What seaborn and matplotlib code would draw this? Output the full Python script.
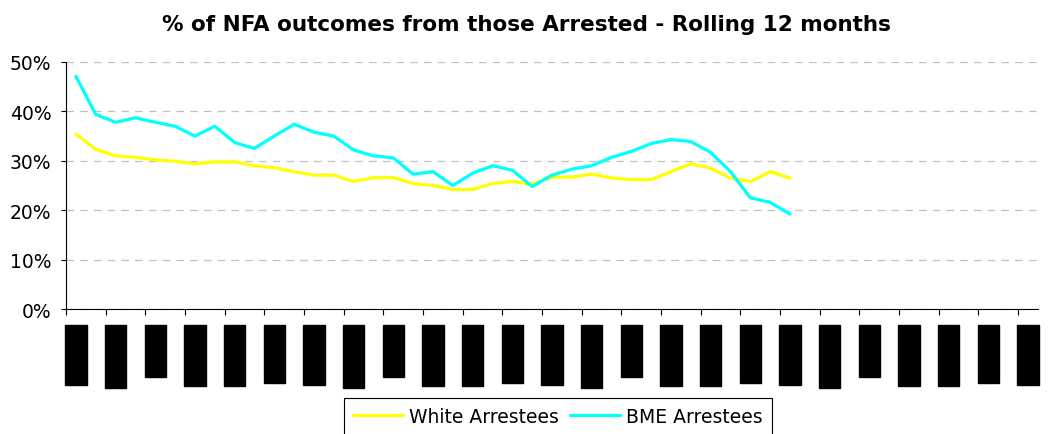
import numpy as np
import pandas as pd
import matplotlib
matplotlib.use("Agg")
import matplotlib.pyplot as plt
from matplotlib.lines import Line2D
from matplotlib.ticker import PercentFormatter
import seaborn as sns

# rolling 12 month NFA rate, one value per month (Mar-06 onwards)
white_pct = [0.354, 0.323, 0.310, 0.307, 0.302, 0.299, 0.294, 0.298, 0.298, 0.290,
             0.286, 0.278, 0.271, 0.271, 0.258, 0.266, 0.266, 0.254, 0.250, 0.242,
             0.242, 0.254, 0.258, 0.253, 0.267, 0.267, 0.273, 0.265, 0.262, 0.262,
             0.278, 0.294, 0.285, 0.265, 0.258, 0.278, 0.265]
bme_pct = [0.471, 0.394, 0.378, 0.387, 0.378, 0.370, 0.350, 0.370, 0.337, 0.325,
           0.350, 0.374, 0.358, 0.350, 0.322, 0.310, 0.306, 0.273, 0.278, 0.250,
           0.275, 0.290, 0.281, 0.248, 0.271, 0.283, 0.290, 0.307, 0.319, 0.335,
           0.343, 0.339, 0.317, 0.278, 0.225, 0.216, 0.192]

# axis is labelled every second month
month_labels = ['Mar-06', 'May-06', 'Jul-06', 'Sep-06', 'Nov-06', 'Jan-07',
                'Mar-07', 'May-07', 'Jul-07', 'Sep-07', 'Nov-07', 'Jan-08',
                'Mar-08', 'May-08', 'Jul-08', 'Sep-08', 'Nov-08', 'Jan-09',
                'Mar-09', 'May-09', 'Jul-09', 'Sep-09', 'Nov-09', 'Jan-10',
                'Mar-10']

series_names = ['White Arrestees', 'BME Arrestees']
series_colors = ['#ffff00', '#00ffff']

n_months = len(month_labels) * 2 - 1

df = pd.DataFrame({
    'month': list(range(len(white_pct))) + list(range(len(bme_pct))),
    'pct': white_pct + bme_pct,
    'group': [series_names[0]] * len(white_pct) + [series_names[1]] * len(bme_pct),
})

sns.set_style("white")
plt.rcParams['font.family'] = ['DejaVu Sans']
plt.rcParams['text.color'] = 'black'

W, H = 1053, 435
fig = plt.figure(figsize=(W / 100, H / 100), dpi=100)
ax = fig.add_axes([66 / W, 1 - 310 / H, (1038 - 66) / W, (310 - 63) / H])

sns.lineplot(data=df, x='month', y='pct', hue='group',
             palette=dict(zip(series_names, series_colors)),
             linewidth=2.3, errorbar=None, legend=False, ax=ax)

ax.set_xlim(-0.5, n_months - 0.5)
ax.set_ylim(0, 0.5)
ax.set_xlabel('')
ax.set_ylabel('')

# y axis
ax.set_yticks(np.arange(0, 0.51, 0.1))
ax.yaxis.set_major_formatter(PercentFormatter(1.0, decimals=0))
ax.tick_params(axis='y', left=True, length=3.6, width=0.8, color='black',
               direction='out', pad=7, labelsize=13.5, labelcolor='black')
ax.yaxis.grid(True, color='#c0c0c0', linestyle=(0, (6, 5)), linewidth=0.9)
ax.xaxis.grid(False)
ax.set_axisbelow(True)

# x axis: ticks between label pairs, labels on every second month
ax.set_xticks(np.arange(-0.5, n_months, 2))
ax.set_xticklabels([])
ax.tick_params(axis='x', which='major', bottom=True, length=4, width=0.8,
               color='black', direction='out')
ax.set_xticks(np.arange(0, n_months, 2), labels=month_labels, minor=True)
ax.tick_params(axis='x', which='minor', bottom=True, length=0, pad=12.8,
               labelsize=12.8, labelrotation=90, labelcolor='black')
for lbl in ax.get_xticklabels(minor=True):
    lbl.set_fontfamily('Liberation Sans')
    lbl.set_bbox(dict(facecolor='black', edgecolor='black', pad=1.5))

for side in ['top', 'right']:
    ax.spines[side].set_visible(False)
for side in ['left', 'bottom']:
    ax.spines[side].set_color('black')
    ax.spines[side].set_linewidth(0.8)

fig.text(0.5, 1 - 25 / H, '% of NFA outcomes from those Arrested - Rolling 12 months',
         ha='center', va='center', fontsize=15.5, fontweight='bold')

handles = [Line2D([], [], color=c, linewidth=2.3) for c in series_colors]
leg = fig.legend(handles, series_names, loc='center',
                 bbox_to_anchor=(558 / W, 1 - 417.5 / H), ncol=2,
                 frameon=True, fancybox=False, edgecolor='black', framealpha=1,
                 fontsize=13.5, handlelength=2.67, handletextpad=0.32,
                 columnspacing=0.59, borderpad=0.5)
leg.get_frame().set_linewidth(0.8)

fig.savefig('out.png', dpi=100)
